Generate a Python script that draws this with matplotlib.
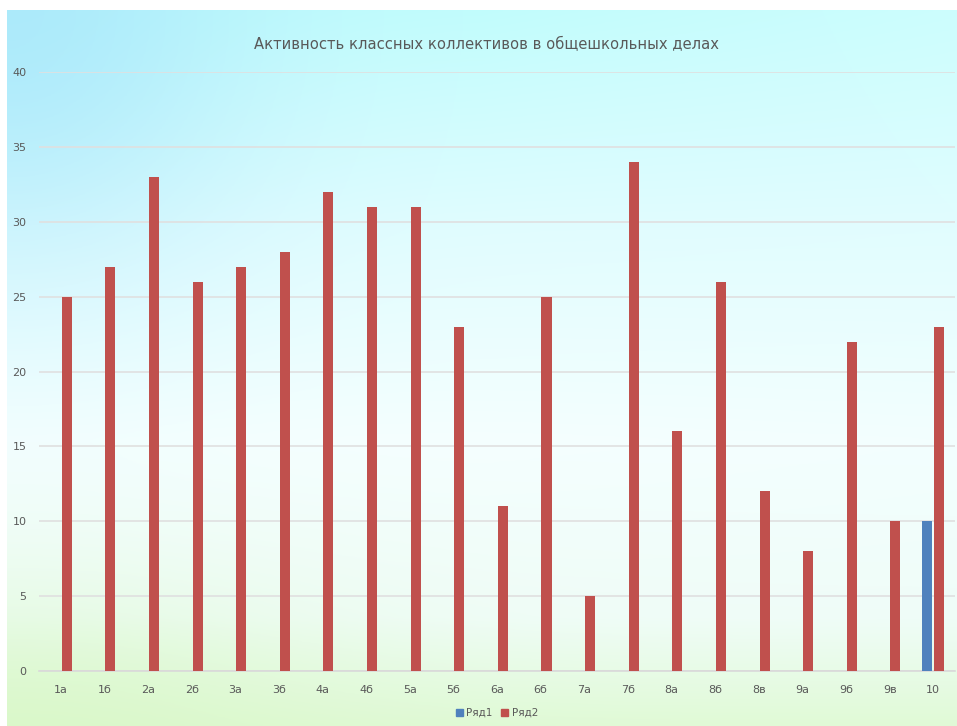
import numpy as np
import matplotlib.pyplot as plt
from matplotlib.patches import Patch

# Данные диаграммы
классы = ['1а', '1б', '2а', '2б', '3а', '3б', '4а', '4б', '5а', '5б', '6а',
          '6б', '7а', '7б', '8а', '8б', '8в', '9а', '9б', '9в', '10']
ряд1 = [0, 0, 0, 0, 0, 0, 0, 0, 0, 0, 0, 0, 0, 0, 0, 0, 0, 0, 0, 0, 10]
ряд2 = [25, 27, 33, 26, 27, 28, 32, 31, 31, 23, 11, 25, 5, 34, 16, 26, 12, 8, 22, 10, 23]

plt.rcParams['font.family'] = ['DejaVu Sans']

fig = plt.figure(figsize=(9.57, 7.26), dpi=100)

# Фон с градиентом: голубой сверху, почти белый в середине, зеленоватый снизу
bg = fig.add_axes([7 / 957, 0, 950 / 957, 716 / 726])
h, w = 240, 300
yy, xx = np.mgrid[0:1:h * 1j, 0:1:w * 1j]
опоры = [0.0, 0.3, 0.6, 0.85, 1.0]
цвета = np.array([[0.76, 0.99, 0.99],
                  [0.88, 0.99, 1.00],
                  [0.96, 1.00, 1.00],
                  [0.94, 0.99, 0.97],
                  [0.88, 0.98, 0.84]])
img = np.stack([np.interp(yy, опоры, цвета[:, c]) for c in range(3)], axis=-1)
# светлее справа вверху
право = np.clip(xx - 0.5, 0, None) * (1 - yy) * 0.6
img = img * (1 - право[..., None]) + право[..., None] * np.array([0.9, 1.0, 1.0])
# синеватый левый верхний угол
угол = np.exp(-((xx / 0.25) ** 2 + (yy / 0.35) ** 2)) * 0.7
img = img * (1 - угол[..., None]) + угол[..., None] * np.array([0.64, 0.89, 0.98])
# зеленоватый левый нижний угол
низ = np.exp(-((xx / 0.35) ** 2 + ((1 - yy) / 0.2) ** 2)) * 0.6
img = img * (1 - низ[..., None]) + низ[..., None] * np.array([0.84, 0.97, 0.76])
bg.imshow(img, aspect='auto', extent=[0, 1, 0, 1], origin='upper')
bg.axis('off')

ax = fig.add_axes([39 / 957, 55 / 726, 916 / 957, 599 / 726])
ax.set_facecolor('none')

x = np.arange(len(классы))
ширина = 0.23
ax.bar(x - 0.135, ряд1, ширина, color='#4f81bd', label='Ряд1', zorder=3)
ax.bar(x + 0.135, ряд2, ширина, color='#c0504d', label='Ряд2', zorder=3)

ax.set_xlim(-0.5, len(классы) - 0.5)
ax.set_ylim(0, 40)
ax.set_yticks(range(0, 41, 5))
ax.set_xticks(x)
ax.set_xticklabels(классы)
ax.grid(axis='y', color='#e0e0e0', linewidth=1.2, zorder=0)
ax.tick_params(length=0, labelsize=8, colors='#595959')
ax.tick_params(axis='x', pad=10)
ax.tick_params(axis='y', pad=9)
for s in ['top', 'right', 'left']:
    ax.spines[s].set_visible(False)
ax.spines['bottom'].set_color('#d9d9d9')
ax.spines['bottom'].set_linewidth(1.2)

fig.text(487 / 957, 1 - 45 / 726, 'Активность классных коллективов в общешкольных делах',
         ha='center', va='center', fontsize=10.6, color='#595959')

ax.legend(handles=[Patch(color='#4f81bd', label='Ряд1'), Patch(color='#c0504d', label='Ряд2')],
          loc='center', bbox_to_anchor=(0.5, -42 / 599), ncol=2, frameon=False,
          fontsize=7.5, handlelength=0.7, handleheight=0.7, handletextpad=0.3,
          columnspacing=0.8, labelcolor='#595959')

fig.savefig('out.png', dpi=100)
